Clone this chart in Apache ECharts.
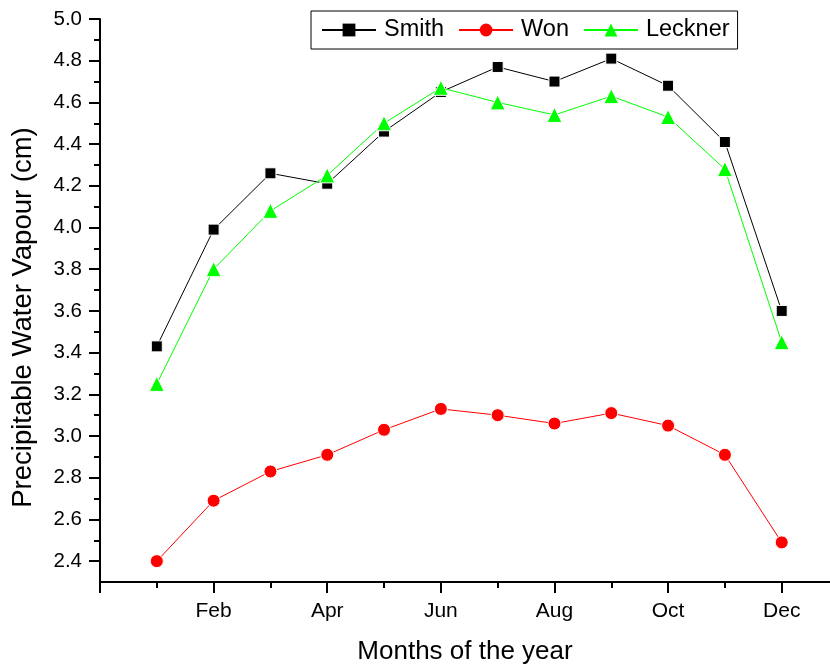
<!DOCTYPE html>
<html>
<head>
<meta charset="utf-8">
<script src="https://cdn.jsdelivr.net/npm/echarts@6/dist/echarts.min.js"></script>
<style>
html,body{margin:0;padding:0;background:#fff;}
#chart{width:830px;height:666px;}
</style>
</head>
<body>
<div id="chart"></div>
<script>
// ---- data ----
var months = [1, 2, 3, 4, 5, 6, 7, 8, 9, 10, 11, 12];
var monthNames = ['Jan','Feb','Mar','Apr','May','Jun','Jul','Aug','Sep','Oct','Nov','Dec'];
var smith   = [3.43, 3.99, 4.26, 4.21, 4.46, 4.65, 4.77, 4.70, 4.81, 4.68, 4.41, 3.60];
var won     = [2.40, 2.69, 2.83, 2.91, 3.03, 3.13, 3.10, 3.06, 3.11, 3.05, 2.91, 2.49];
var leckner = [3.25, 3.80, 4.08, 4.25, 4.50, 4.67, 4.60, 4.54, 4.63, 4.53, 4.28, 3.45];
var yMajorTicks = [2.4, 2.6, 2.8, 3.0, 3.2, 3.4, 3.6, 3.8, 4.0, 4.2, 4.4, 4.6, 4.8, 5.0];
var yMinorTicks = [2.5, 2.7, 2.9, 3.1, 3.3, 3.5, 3.7, 3.9, 4.1, 4.3, 4.5, 4.7, 4.9];
var xMajorTicks = [0, 2, 4, 6, 8, 10, 12];
var xMinorTicks = [1, 3, 5, 7, 9, 11];
var xLabelTicks = [2, 4, 6, 8, 10, 12];

function pairs(arr){ return months.map(function(m,i){ return [m, arr[i]]; }); }

var FONT = '"Liberation Sans", Arial, sans-serif';
var chart = echarts.init(document.getElementById('chart'), null, {renderer:'canvas'});

var axisLineStyle = {color:'#000', width:2};

chart.setOption({
  animation:false,
  backgroundColor:'#fff',
  textStyle:{fontFamily:FONT},
  grid:{left:100, right:0, top:19, bottom:84, containLabel:false, outerBoundsMode:'none'},
  legend:{
    left:311, top:11,
    padding:[7,8,7,10],
    borderColor:'#000', borderWidth:1,
    itemWidth:54, itemHeight:16, itemGap:14,
    itemStyle:{borderWidth:0},
    textStyle:{fontSize:23.5, color:'#000', fontFamily:FONT, padding:[0,0,0,3]},
    data:['Smith','Won','Leckner']
  },
  xAxis:[{
    type:'value', min:0, max:12.85,
    position:'bottom',
    axisLine:{show:true, lineStyle:axisLineStyle},
    axisTick:{show:true, inside:false, length:11, lineStyle:{width:2,color:'#000'}, customValues:xMajorTicks},
    axisLabel:{show:true, fontSize:21, color:'#000', margin:19, fontFamily:FONT,
      customValues:xLabelTicks,
      formatter:function(v){ return monthNames[Math.round(v)-1] || ''; }},
    splitLine:{show:false},
    name:'Months of the year', nameLocation:'middle', nameGap:57,
    nameTextStyle:{fontSize:26, color:'#000', fontFamily:FONT}
  },{
    type:'value', min:0, max:12.85, position:'bottom',
    axisLine:{show:false},
    axisTick:{show:true, length:6, lineStyle:{width:2,color:'#000'}, customValues:xMinorTicks},
    axisLabel:{show:false},
    splitLine:{show:false}
  }],
  yAxis:[{
    type:'value', min:2.3, max:5.0,
    axisLine:{show:true, lineStyle:axisLineStyle},
    axisTick:{show:true, inside:false, length:11, lineStyle:{width:2,color:'#000'}, customValues:yMajorTicks},
    axisLabel:{show:true, fontSize:20.5, color:'#000', margin:18, fontFamily:FONT,
      customValues:yMajorTicks,
      formatter:function(v){ return v.toFixed(1); }},
    splitLine:{show:false},
    name:'Precipitable Water Vapour (cm)', nameLocation:'middle', nameGap:63,
    nameTextStyle:{fontSize:27.5, color:'#000', fontFamily:FONT, padding:[0,34,0,0]}
  },{
    type:'value', min:2.3, max:5.0, position:'left',
    axisLine:{show:false},
    axisTick:{show:true, length:6, lineStyle:{width:2,color:'#000'}, customValues:yMinorTicks},
    axisLabel:{show:false},
    splitLine:{show:false}
  }],
  series:[{
    name:'Smith', type:'line', data:pairs(smith),
    symbol:'rect', symbolSize:11,
    lineStyle:{color:'#000', width:1},
    itemStyle:{color:'#000', borderColor:'#fff', borderWidth:1},
    z:3
  },{
    name:'Won', type:'line', data:pairs(won),
    symbol:'circle', symbolSize:13,
    lineStyle:{color:'#ff0000', width:1},
    itemStyle:{color:'#ff0000', borderColor:'#fff', borderWidth:1},
    z:2
  },{
    name:'Leckner', type:'line', data:pairs(leckner),
    symbol:'triangle', symbolSize:15,
    lineStyle:{color:'#00ff00', width:1},
    itemStyle:{color:'#00ff00', borderColor:'#fff', borderWidth:1},
    z:4
  }]
});
</script>
</body>
</html>
